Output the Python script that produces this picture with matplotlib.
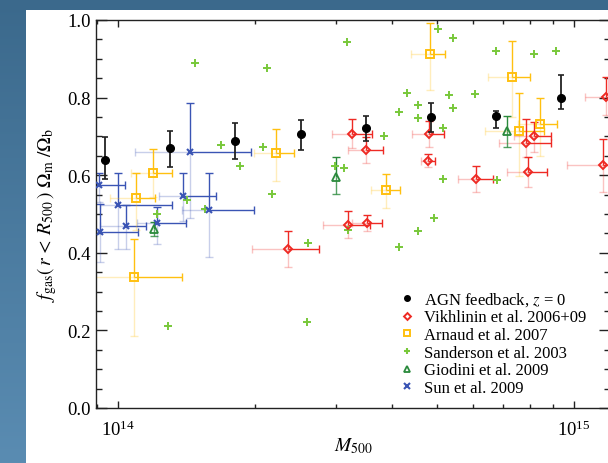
import numpy as np
import matplotlib
matplotlib.use("Agg")
import matplotlib.pyplot as plt
from matplotlib.lines import Line2D
from matplotlib.patches import Rectangle
from matplotlib.ticker import MultipleLocator, LogLocator, NullFormatter

plt.rcParams['font.family'] = 'serif'
plt.rcParams['font.serif'] = ['Liberation Serif', 'DejaVu Serif']
plt.rcParams['mathtext.fontset'] = 'stix'

# ---- data: M500 in units of 1e14 Msun, gas fractions f_gas * Om_m / Om_b ----
# AGN feedback simulation, z = 0 (binned medians with scatter)
agn_m = [0.936, 1.300, 1.806, 2.519, 3.499, 4.858, 6.745, 9.366]
agn_f = [0.639, 0.670, 0.688, 0.706, 0.722, 0.750, 0.753, 0.799]
agn_flo = [0.590, 0.621, 0.642, 0.665, 0.688, 0.711, 0.722, 0.771]
agn_fhi = [0.698, 0.714, 0.735, 0.743, 0.752, 0.787, 0.766, 0.858]

# Vikhlinin et al. 2006+09
vik_m = [2.359, 3.195, 3.511, 3.261, 3.504, 4.809, 4.778, 6.106, 7.847, 8.158, 7.916, 11.58, 11.74]
vik_mlo = [1.967, 2.811, 3.254, 2.942, 3.190, 4.420, 4.611, 5.576, 6.838, 7.399, 7.140, 9.638, 10.57]
vik_mhi = [2.759, 3.570, 3.787, 3.601, 3.818, 5.196, 4.958, 6.634, 8.904, 8.904, 8.711, 13.0, 13.0]
vik_f = [0.410, 0.472, 0.477, 0.705, 0.666, 0.705, 0.637, 0.590, 0.682, 0.700, 0.608, 0.626, 0.802]
vik_flo = [0.363, 0.438, 0.456, 0.670, 0.631, 0.672, 0.620, 0.557, 0.647, 0.659, 0.569, 0.556, 0.754]
vik_fhi = [0.456, 0.508, 0.498, 0.745, 0.698, 0.740, 0.654, 0.624, 0.745, 0.738, 0.646, 0.693, 0.853]

# Arnaud et al. 2007
arn_m = [1.193, 1.095, 1.086, 2.218, 3.870, 4.827, 7.302, 7.586, 8.423]
arn_mlo = [1.066, 0.960, 0.850, 1.987, 3.583, 4.391, 6.489, 6.380, 7.549]
arn_mhi = [1.315, 1.205, 1.380, 2.428, 4.153, 5.214, 7.996, 8.595, 9.191]
arn_f = [0.605, 0.540, 0.337, 0.657, 0.563, 0.912, 0.854, 0.715, 0.732]
arn_flo = [0.545, 0.460, 0.185, 0.586, 0.515, 0.820, 0.750, 0.598, 0.649]
arn_fhi = [0.668, 0.605, 0.435, 0.720, 0.603, 0.992, 0.946, 0.812, 0.800]

# Sanderson et al. 2003
san_m = [1.473, 2.125, 3.174, 1.680, 2.080, 3.831, 4.133, 5.040, 5.436, 6.755,
         8.158, 9.131, 4.311, 5.319, 6.067, 4.557, 5.436, 4.557, 5.153, 1.852,
         2.991, 3.130, 2.173, 1.552, 3.199, 2.606, 4.140, 5.166, 6.789, 4.932,
         4.557, 1.215, 1.415, 1.287, 2.601]
san_f = [0.888, 0.876, 0.944, 0.679, 0.673, 0.700, 0.762, 0.978, 0.954, 0.919,
         0.912, 0.919, 0.812, 0.807, 0.810, 0.782, 0.772, 0.747, 0.721, 0.623,
         0.623, 0.619, 0.552, 0.513, 0.459, 0.424, 0.414, 0.590, 0.588, 0.489,
         0.457, 0.501, 0.537, 0.212, 0.222]

# Giodini et al. 2009
gio_m = [3.001, 7.119, 1.198]
gio_f = [0.596, 0.713, 0.461]
gio_flo = [0.551, 0.673, 0.444]
gio_fhi = [0.646, 0.753, 0.479]

# Sun et al. 2009
sun_m = [1.439, 0.907, 0.998, 1.040, 0.913, 1.216, 1.391, 1.580]
sun_mlo = [1.088, 0.880, 0.913, 0.913, 0.895, 1.100, 1.230, 1.380]
sun_mhi = [1.954, 1.036, 1.311, 1.150, 1.104, 1.413, 1.638, 1.985]
sun_f = [0.661, 0.576, 0.524, 0.470, 0.453, 0.477, 0.546, 0.511]
sun_flo = [0.490, 0.530, 0.410, 0.410, 0.376, 0.423, 0.483, 0.388]
sun_fhi = [0.785, 0.605, 0.605, 0.524, 0.526, 0.518, 0.605, 0.605]

legend_labels = ['AGN feedback, $z$ = 0', 'Vikhlinin et al. 2006+09', 'Arnaud et al. 2007',
                 'Sanderson et al. 2003', 'Giodini et al. 2009', 'Sun et al. 2009']

C_AGN = 'black'
C_VIK = '#ee2a24'
C_ARN = '#ffc010'
C_SAN = '#78c83a'
C_GIO = '#2a8a3c'
C_SUN = '#3a54b4'

UNIT = 1e14

fig = plt.figure(figsize=(6.08, 4.64), dpi=100)

# slide background: blue frame (darker at the top) with a white panel
bg = fig.add_axes([0, 0, 1, 1], zorder=-5)
grad = np.linspace(0, 1, 256).reshape(-1, 1)
cmap = matplotlib.colors.LinearSegmentedColormap.from_list('bgblue', ['#3b698c', '#5a8cb2'])
bg.imshow(grad, aspect='auto', cmap=cmap, origin='upper', extent=[0, 1, 0, 1])
bg.add_patch(Rectangle((26 / 608, 0), 1, 453 / 464, facecolor='white', edgecolor='none'))
bg.set_xlim(0, 1)
bg.set_ylim(0, 1)
bg.axis('off')

ax = fig.add_axes([96 / 608, 55 / 464, 514 / 608, 388 / 464])
ax.set_facecolor('white')


def split_bars(x, y, xlo, xhi, ylo, yhi, color, fade=0.28, lw=1.0, cap=2.6):
    x = np.asarray(x) * UNIT
    y = np.asarray(y)
    if xlo is not None:
        xlo = np.asarray(xlo) * UNIT
        xhi = np.asarray(xhi) * UNIT
        ax.hlines(y, xlo, x, colors=color, alpha=fade, lw=lw, zorder=2)
        ax.plot(xlo, y, ls='none', marker='|', ms=cap * 2, mew=lw, color=color, alpha=fade, zorder=2)
        ax.hlines(y, x, xhi, colors=color, lw=lw, zorder=2)
        ax.plot(xhi, y, ls='none', marker='|', ms=cap * 2, mew=lw, color=color, zorder=2)
    ylo = np.asarray(ylo)
    yhi = np.asarray(yhi)
    ax.vlines(x, ylo, y, colors=color, alpha=fade, lw=lw, zorder=2)
    ax.plot(x, ylo, ls='none', marker='_', ms=cap * 2, mew=lw, color=color, alpha=fade, zorder=2)
    ax.vlines(x, y, yhi, colors=color, lw=lw, zorder=2)
    ax.plot(x, yhi, ls='none', marker='_', ms=cap * 2, mew=lw, color=color, zorder=2)


# Sun et al.
split_bars(sun_m, sun_f, sun_mlo, sun_mhi, sun_flo, sun_fhi, C_SUN)
ax.plot(np.array(sun_m) * UNIT, sun_f, ls='none', marker='x', ms=5, mew=1.5, color=C_SUN, zorder=4)

# Arnaud et al.
split_bars(arn_m, arn_f, arn_mlo, arn_mhi, arn_flo, arn_fhi, C_ARN)
ax.plot(np.array(arn_m) * UNIT, arn_f, ls='none', marker='s', ms=6, mew=1.4,
        mfc='none', mec=C_ARN, zorder=4)

# Vikhlinin et al.
split_bars(vik_m, vik_f, vik_mlo, vik_mhi, vik_flo, vik_fhi, C_VIK)
ax.plot(np.array(vik_m) * UNIT, vik_f, ls='none', marker='D', ms=4, mew=1.4,
        mfc='none', mec=C_VIK, zorder=4)

# Sanderson et al.
ax.plot(np.array(san_m) * UNIT, san_f, ls='none', marker='+', ms=6, mew=1.4, color=C_SAN, zorder=3)

# Giodini et al.
split_bars(gio_m, gio_f, None, None, gio_flo, gio_fhi, C_GIO, fade=0.8)
ax.plot(np.array(gio_m) * UNIT, gio_f, ls='none', marker='^', ms=6, mew=1.3,
        mfc='none', mec=C_GIO, zorder=4)

# AGN feedback simulation
ax.vlines(np.array(agn_m) * UNIT, agn_flo, agn_fhi, colors='#222222', lw=1.3, zorder=5)
ax.plot(np.array(agn_m) * UNIT, agn_flo, ls='none', marker='_', ms=5, mew=1.2, color='#222222', zorder=5)
ax.plot(np.array(agn_m) * UNIT, agn_fhi, ls='none', marker='_', ms=5, mew=1.2, color='#222222', zorder=5)
ax.plot(np.array(agn_m) * UNIT, agn_f, ls='none', marker='o', ms=5.5, color=C_AGN, zorder=6)

ax.set_xscale('log')
ax.set_xlim(0.895e14, 1.2e15)
ax.set_ylim(0.0, 1.0)

ax.xaxis.set_major_locator(LogLocator(base=10))
ax.xaxis.set_minor_locator(LogLocator(base=10, subs=np.arange(2, 10)))
ax.xaxis.set_minor_formatter(NullFormatter())
ax.yaxis.set_major_locator(MultipleLocator(0.2))
ax.yaxis.set_minor_locator(MultipleLocator(0.05))
ax.yaxis.set_major_formatter(matplotlib.ticker.FormatStrFormatter('%.1f'))

ax.tick_params(which='both', direction='in', top=True, right=True, labelsize=13.5, color='#222222')
ax.tick_params(axis='y', which='major', length=7.7, width=1.0, pad=4)
ax.tick_params(axis='y', which='minor', length=4.0, width=1.0)
ax.tick_params(axis='x', which='major', length=5.0, width=1.0, pad=8)
ax.tick_params(axis='x', which='minor', length=2.7, width=1.0)
for s in ax.spines.values():
    s.set_linewidth(1.0)
    s.set_color('#222222')

ax.set_xlabel(r'$M_{500}$', fontsize=14, labelpad=-2)
ax.set_ylabel(r'$f_{\rm gas}(\,r\,<\,R_{500}\,)\ \Omega_{\rm m}\ /\Omega_{\rm b}$', fontsize=14, labelpad=6)

handles = [
    Line2D([], [], ls='none', marker='o', ms=4, color=C_AGN),
    Line2D([], [], ls='none', marker='D', ms=3.5, mew=1.4, mfc='none', mec=C_VIK),
    Line2D([], [], ls='none', marker='s', ms=5, mew=1.4, mfc='none', mec=C_ARN),
    Line2D([], [], ls='none', marker='+', ms=5, mew=1.5, color=C_SAN),
    Line2D([], [], ls='none', marker='^', ms=5, mew=1.3, mfc='none', mec=C_GIO),
    Line2D([], [], ls='none', marker='x', ms=4, mew=1.5, color=C_SUN),
]
ax.legend(handles, legend_labels, loc='upper left', bbox_to_anchor=(0.5895, 0.304),
          frameon=False, fontsize=12, handlelength=1.0, handletextpad=0.5,
          labelspacing=0.1, borderpad=0, borderaxespad=0)

fig.savefig('out.png', dpi=100)
